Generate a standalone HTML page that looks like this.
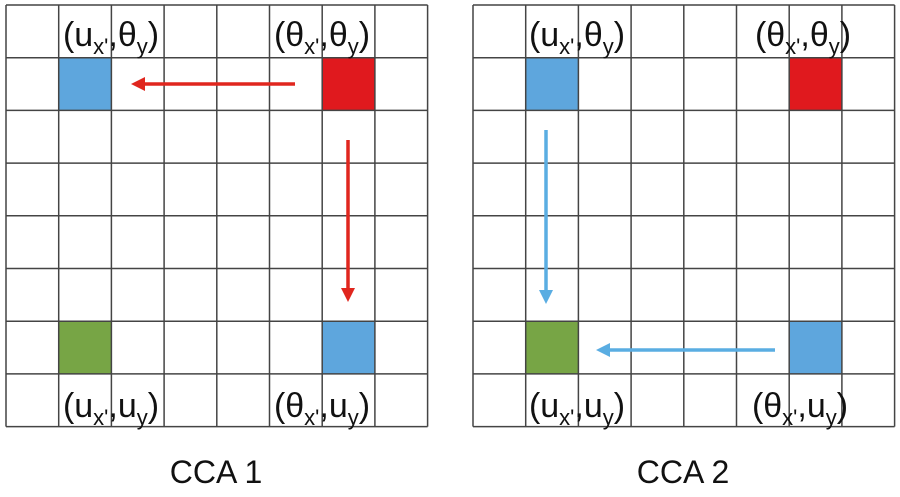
<!DOCTYPE html>
<html><head><meta charset="utf-8"><style>body{margin:0;background:#fff}svg{display:block}</style></head>
<body>
<svg width="900" height="497" xmlns="http://www.w3.org/2000/svg" font-family="Liberation Sans, sans-serif">
<defs>
<marker id="ar" viewBox="0 0 10 10" refX="5" refY="5" markerWidth="4" markerHeight="4" orient="auto"><path d="M0,0L10,5L0,10z" fill="#e0261e"/></marker>
<marker id="ab" viewBox="0 0 10 10" refX="5" refY="5" markerWidth="4" markerHeight="4" orient="auto"><path d="M0,0L10,5L0,10z" fill="#5aade2"/></marker>
</defs>
<g id="grids"></g>
<line x1="295" y1="84" x2="138" y2="84" stroke="#e0261e" stroke-width="3.5" marker-end="url(#ar)"/>
<line x1="348" y1="140" x2="348" y2="295" stroke="#e0261e" stroke-width="3.5" marker-end="url(#ar)"/>
<line x1="546" y1="130" x2="546" y2="297" stroke="#5aade2" stroke-width="3.5" marker-end="url(#ab)"/>
<line x1="775" y1="350" x2="603" y2="350" stroke="#5aade2" stroke-width="3.5" marker-end="url(#ab)"/>
<g font-size="34" fill="#111" text-anchor="middle">
<text x="111" y="46">(u<tspan font-size="22" dy="8">x'</tspan><tspan dy="-8">,θ</tspan><tspan font-size="22" dy="8">y</tspan><tspan dy="-8">)</tspan></text>
<text x="322" y="46">(θ<tspan font-size="22" dy="8">x'</tspan><tspan dy="-8">,θ</tspan><tspan font-size="22" dy="8">y</tspan><tspan dy="-8">)</tspan></text>
<text x="111" y="417">(u<tspan font-size="22" dy="8">x'</tspan><tspan dy="-8">,u</tspan><tspan font-size="22" dy="8">y</tspan><tspan dy="-8">)</tspan></text>
<text x="322" y="417">(θ<tspan font-size="22" dy="8">x'</tspan><tspan dy="-8">,u</tspan><tspan font-size="22" dy="8">y</tspan><tspan dy="-8">)</tspan></text>
<text x="577" y="46">(u<tspan font-size="22" dy="8">x'</tspan><tspan dy="-8">,θ</tspan><tspan font-size="22" dy="8">y</tspan><tspan dy="-8">)</tspan></text>
<text x="803" y="46">(θ<tspan font-size="22" dy="8">x'</tspan><tspan dy="-8">,θ</tspan><tspan font-size="22" dy="8">y</tspan><tspan dy="-8">)</tspan></text>
<text x="577" y="417">(u<tspan font-size="22" dy="8">x'</tspan><tspan dy="-8">,u</tspan><tspan font-size="22" dy="8">y</tspan><tspan dy="-8">)</tspan></text>
<text x="800" y="417">(θ<tspan font-size="22" dy="8">x'</tspan><tspan dy="-8">,u</tspan><tspan font-size="22" dy="8">y</tspan><tspan dy="-8">)</tspan></text>
<text x="216" y="483" font-size="32">CCA 1</text>
<text x="683" y="483" font-size="32">CCA 2</text>
</g>
</svg>
<script>
const gridOrigins=[6,473];
const cellsRow=[1,1,6,6];
const cellsCol=[1,6,1,6];
const cellColors=["#5ea6dd","#e0191e","#77a545","#5ea6dd"];
const cellNames=["cell-ux-thetay","cell-thetax-thetay","cell-ux-uy","cell-thetax-uy"];
const ns="http://www.w3.org/2000/svg",g=document.getElementById('grids');
const C=52.7,top0=5,N=8;
gridOrigins.forEach((x0,gi)=>{
  const grp=document.createElementNS(ns,'g');
  
  
  for(let i=0;i<cellsRow.length;i++){
    const r=document.createElementNS(ns,'rect');
    r.setAttribute('x',x0+cellsCol[i]*C);r.setAttribute('y',top0+cellsRow[i]*C);
    r.setAttribute('width',C);r.setAttribute('height',C);r.setAttribute('fill',cellColors[i]);
    
    
    grp.appendChild(r);
  }
  for(let k=0;k<=N;k++){
    const v=document.createElementNS(ns,'line');
    v.setAttribute('x1',x0+k*C);v.setAttribute('x2',x0+k*C);v.setAttribute('y1',top0);v.setAttribute('y2',top0+N*C);
    v.setAttribute('stroke','#444');v.setAttribute('stroke-width','1.5');
    
    
    grp.appendChild(v);
    const h=document.createElementNS(ns,'line');
    h.setAttribute('y1',top0+k*C);h.setAttribute('y2',top0+k*C);h.setAttribute('x1',x0);h.setAttribute('x2',x0+N*C);
    h.setAttribute('stroke','#444');h.setAttribute('stroke-width','1.5');
    
    
    grp.appendChild(h);
  }
  g.appendChild(grp);
});
</script>
</body></html>
